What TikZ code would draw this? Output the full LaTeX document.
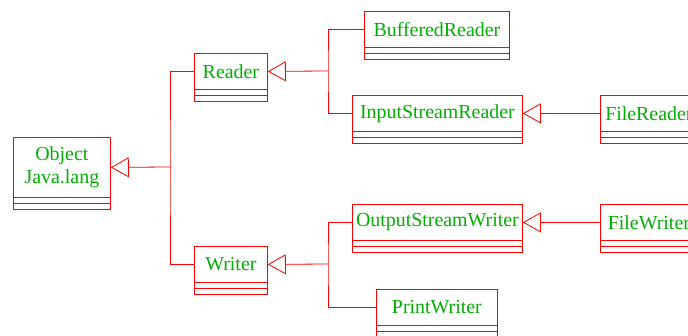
\documentclass[tikz,border=0pt]{standalone}
\usepackage{fontspec}
\setmainfont{Liberation Serif}
\usetikzlibrary{arrows.meta}
\definecolor{umlred}{RGB}{255,0,0}
\definecolor{umlgreen}{RGB}{0,175,0}
\tikzset{
  cls/.style={draw=umlred, line width=0.8pt, rectangle, anchor=north west,
    minimum height=36pt, inner sep=0pt, text=umlgreen, align=center,
    font=\fontsize{19.9}{23.5}\selectfont},
  link/.style={draw=umlred, line width=0.8pt},
  inh/.style={link, -{Triangle[open, length=18pt, width=20pt, line width=0.8pt]}},
}
\newcommand{\comps}[1]{%
  \draw[link] (#1.south west) rectangle ([yshift=-6pt]#1.south east);
  \draw[link] ([yshift=-6pt]#1.south west) rectangle ([yshift=-12pt]#1.south east);
}
\begin{document}
\begin{tikzpicture}[x=1pt,y=-1pt]
\useasboundingbox (0,0) rectangle (688,336);
\clip (0,0) rectangle (688,336);
\node[cls, minimum width=97pt, minimum height=60pt] (object) at (13,137) {Object\\Java.lang};
\node[cls, minimum width=73pt] (reader) at (194,53) {Reader};
\node[cls, minimum width=73pt] (writer) at (194,246) {Writer};
\node[cls, minimum width=145pt] (buffered) at (364,11) {BufferedReader};
\node[cls, minimum width=170pt] (isr) at (352,95) {InputStreamReader};
\node[cls, minimum width=97pt] (filereader) at (600,95) {FileReader};
\node[cls, minimum width=170pt] (osw) at (352,204) {OutputStreamWriter};
\node[cls, minimum width=97pt] (filewriter) at (600,204) {FileWriter};
\node[cls, minimum width=121pt] (print) at (376,289) {PrintWriter};
\foreach \n in {object,reader,writer,buffered,isr,filereader,osw,filewriter,print} {\comps{\n}}
% Object hierarchy
\coordinate (jobj) at (170,167);
\draw[link] (reader.west) -| (jobj) |- (writer.west);
\draw[inh] (jobj) -- (object.east);
% Reader hierarchy
\coordinate (jread) at (328,71);
\draw[link] (buffered.west) -| (jread) |- (isr.west);
\draw[inh] (jread) -- (reader.east);
\draw[inh] (filereader.west) -- (isr.east);
% Writer hierarchy
\coordinate (jwrite) at (328,264);
\draw[link] (osw.west) -| (jwrite) |- (print.west);
\draw[inh] (jwrite) -- (writer.east);
\draw[inh] (filewriter.west) -- (osw.east);
\end{tikzpicture}
\end{document}
